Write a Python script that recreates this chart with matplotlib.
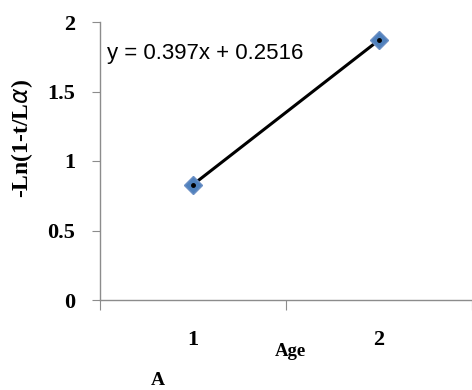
import matplotlib
matplotlib.use("Agg")
import matplotlib.pyplot as plt

ages = [1, 2]
age_labels = ["1", "2"]
values = [0.83, 1.87]
y_ticks = [0, 0.5, 1, 1.5, 2]
y_tick_labels = ["0", "0.5", "1", "1.5", "2"]
equation = "y = 0.397x + 0.2516"

fig = plt.figure(figsize=(4.72, 3.90), dpi=100)
ax = fig.add_axes([100/472, 1-300/390, 1-100/472, (300-22)/390])

ax.plot(ages, values, color="black", lw=2.2, zorder=2)
ax.plot(ages, values, ls="none", marker="D", markersize=9, markerfacecolor="#4F81BD",
        markeredgecolor="#6b8fc4", zorder=3)
ax.plot(ages, values, ls="none", marker="o", markersize=2.5, color="black", zorder=4)

ax.set_xlim(0.5, 2.5)
ax.set_ylim(0, 2)
for s in ["top", "right"]:
    ax.spines[s].set_visible(False)
for s in ["left", "bottom"]:
    ax.spines[s].set_color("#8c8c8c")
    ax.spines[s].set_linewidth(1.0)

serif = "Liberation Serif"
ax.set_yticks(y_ticks)
ax.set_yticklabels(y_tick_labels, fontfamily=serif, fontweight="bold", fontsize=16)
ax.tick_params(axis="y", length=6, color="#8c8c8c", pad=12)
ax.set_xticks([0.5, 1.5, 2.5])
ax.set_xticklabels([])
ax.tick_params(axis="x", length=7, color="#8c8c8c")
for xv, lab in zip(ages, age_labels):
    ax.text(xv, -0.29, lab, ha="center", va="center", fontfamily=serif,
            fontweight="bold", fontsize=16, transform=ax.transData, clip_on=False)

fig.text(290/472, 1-352/390, "Age", ha="center", va="center", fontfamily=serif,
         fontweight="bold", fontsize=13.5)
fig.text(158/472, 1-389/390, "A", ha="center", va="bottom", fontfamily=serif,
         fontweight="bold", fontsize=14)
fig.text(22/472, 1-139/390, r"-Ln(1-t/L$\alpha$)", rotation=90, ha="center", va="center",
         fontfamily=serif, fontweight="bold", fontsize=17)
ax.text(107/472, 1-53/390, equation, transform=fig.transFigure, ha="left", va="center",
        fontfamily="Liberation Sans", fontsize=16)

fig.savefig("out.png", dpi=100)
